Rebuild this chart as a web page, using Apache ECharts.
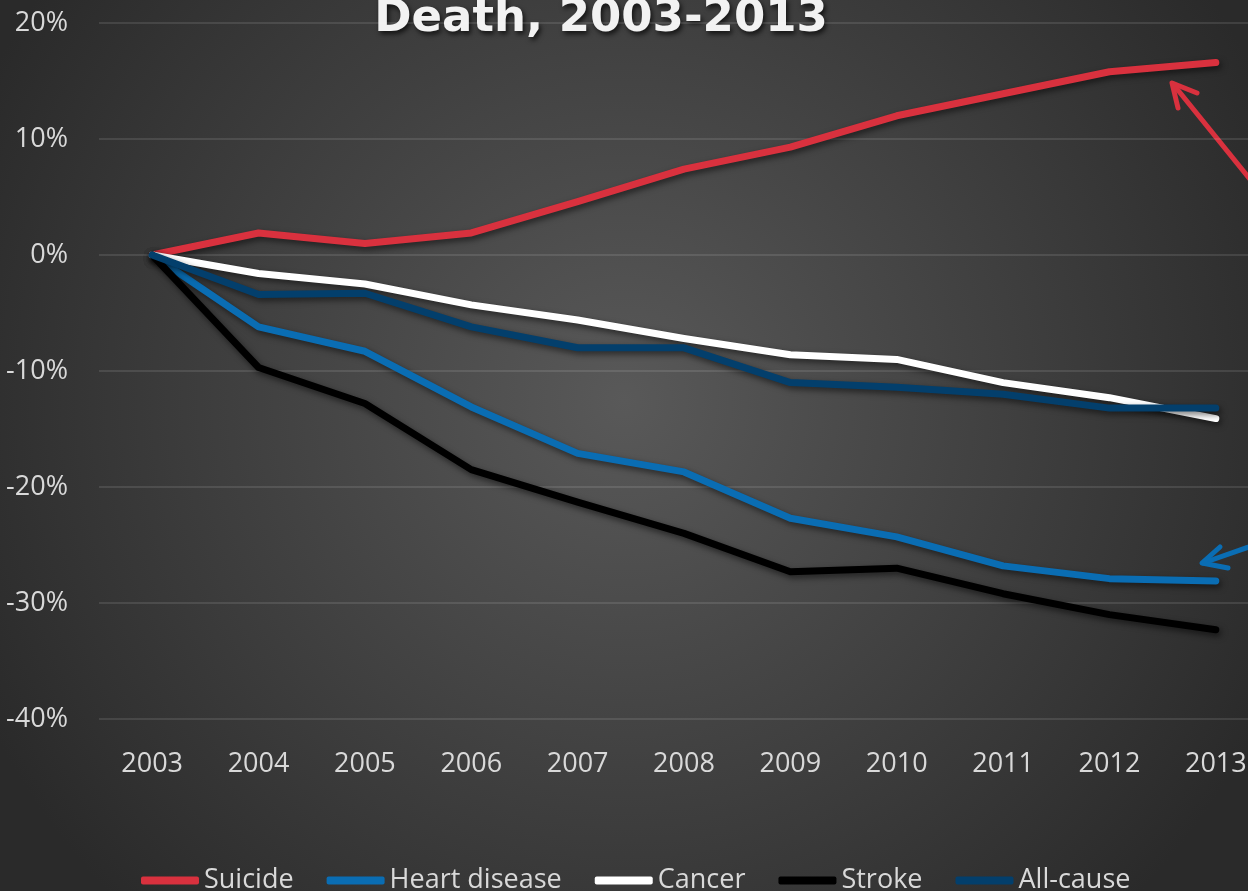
<!DOCTYPE html>
<html>
<head>
<meta charset="utf-8">
<script src="https://cdn.jsdelivr.net/npm/echarts@6/dist/echarts.min.js"></script>
<style>
  html, body { margin: 0; padding: 0; background: #2b2b2b; }
  #chart { width: 1248px; height: 891px; }
</style>
</head>
<body>
<div id="chart"></div>
<script>
// years on the x axis
const years = ['2003', '2004', '2005', '2006', '2007', '2008', '2009', '2010', '2011', '2012', '2013']
// percent change since 2003
const suicide = [0, 1.9, 1.0, 1.9, 4.6, 7.4, 9.3, 12.0, 13.9, 15.8, 16.6]
const heartDisease = [0, -6.2, -8.3, -13.1, -17.1, -18.7, -22.7, -24.3, -26.8, -27.9, -28.1]
const cancer = [0, -1.6, -2.5, -4.3, -5.6, -7.2, -8.6, -9.0, -11.0, -12.3, -14.1]
const stroke = [0, -9.7, -12.8, -18.5, -21.3, -24.0, -27.3, -27.0, -29.2, -31.0, -32.3]
const allCause = [0, -3.4, -3.3, -6.2, -8.0, -8.0, -11.0, -11.4, -12.0, -13.2, -13.2]

const names = ['Suicide', 'Heart disease', 'Cancer', 'Stroke', 'All-cause']
const colors = ['#d9313e', '#0a6db3', '#ffffff', '#000000', '#033f6c']
const values = [suicide, heartDisease, cancer, stroke, allCause]

const labelFont = '"Open Sans", "Noto Sans", sans-serif'

const mychart = echarts.init(document.getElementById('chart'))

mychart.setOption({
  backgroundColor: new echarts.graphic.RadialGradient(0.5, 0.45, 0.8, [
    { offset: 0, color: '#595959' },
    { offset: 1, color: '#2a2a2a' },
  ]),
  // plot runs past the right edge, like the cropped original
  grid: { left: 99, width: 1170, top: 23, bottom: 172, outerBoundsMode: 'none' },
  legend: {
    left: 136,
    top: 862,
    icon: 'roundRect',
    itemWidth: 58,
    itemHeight: 8,
    itemGap: 33,
    textStyle: { color: '#d9d9d9', fontSize: 27, fontFamily: labelFont },
    data: names,
  },
  xAxis: {
    type: 'category',
    data: years,
    boundaryGap: true,
    axisLine: { show: false },
    axisTick: { show: false },
    axisLabel: { color: '#d9d9d9', fontSize: 27, fontFamily: labelFont, margin: 32 },
  },
  yAxis: {
    type: 'value',
    min: -40,
    max: 20,
    interval: 10,
    axisLine: { show: false },
    axisTick: { show: false },
    axisLabel: { color: '#d9d9d9', fontSize: 27, fontFamily: labelFont, margin: 31, formatter: '{value}%' },
    splitLine: { lineStyle: { color: 'rgba(255,255,255,0.14)', width: 1.5 } },
  },
  series: names.map((n, i) => ({
    type: 'line',
    name: n,
    data: values[i],
    showSymbol: false,
    symbol: 'none',
    color: colors[i],
    lineStyle: {
      color: colors[i],
      width: 7,
      cap: 'round',
      join: 'round',
      shadowColor: 'rgba(0,0,0,0.55)',
      shadowBlur: 6,
      shadowOffsetX: 2,
      shadowOffsetY: 3,
    },
    emphasis: { disabled: true },
  })),
  graphic: [
    {
      type: 'text',
      x: 601,
      y: 19,
      style: {
        text: 'Death, 2003-2013',
        fill: '#f2f2f2',
        font: 'bold 45px "DejaVu Sans", sans-serif',
        textAlign: 'center',
        textVerticalAlign: 'middle',
        textShadowColor: 'rgba(0,0,0,0.7)',
        textShadowBlur: 5,
        textShadowOffsetX: 2,
        textShadowOffsetY: 3,
      },
    },
    // red arrow (annotation)
    {
      type: 'polyline',
      shape: { points: [[1295, 235], [1173, 84]] },
      style: { stroke: '#d9313e', lineWidth: 5, lineCap: 'round', fill: null },
    },
    {
      type: 'polyline',
      shape: { points: [[1178, 108], [1172, 83], [1197, 93]] },
      style: { stroke: '#d9313e', lineWidth: 5, lineCap: 'round', lineJoin: 'round', fill: null },
    },
    // blue arrow (annotation)
    {
      type: 'polyline',
      shape: { points: [[1300, 529], [1203, 563]] },
      style: { stroke: '#0a6db3', lineWidth: 5, lineCap: 'round', fill: null },
    },
    {
      type: 'polyline',
      shape: { points: [[1220, 547], [1202, 563], [1228, 568]] },
      style: { stroke: '#0a6db3', lineWidth: 5, lineCap: 'round', lineJoin: 'round', fill: null },
    },
  ],
})
</script>
</body>
</html>
